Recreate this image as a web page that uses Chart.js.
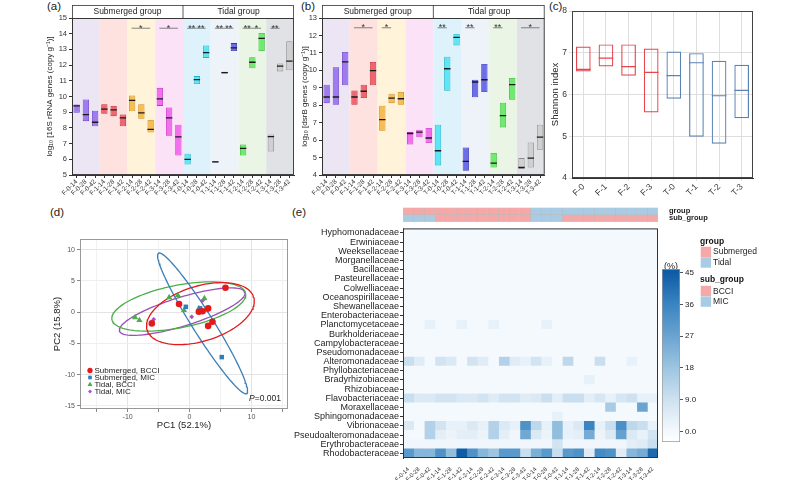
<!DOCTYPE html>
<html>
<head>
<meta charset="utf-8">
<script src="https://cdn.jsdelivr.net/npm/chart.js@4.4.1/dist/chart.umd.min.js"></script>
<style>
  html, body { margin: 0; padding: 0; background: #fff; }
  body { width: 800px; height: 480px; position: relative; overflow: hidden; font-family: "Liberation Sans", Arial, sans-serif; }
  canvas { position: absolute; }
  .tag { position: absolute; font-size: 11.5px; line-height: 1; color: #222; }
</style>
</head>
<body>
<div class="tag" style="left:47px;top:1px">(a)</div>
<div class="tag" style="left:301px;top:1px">(b)</div>
<div class="tag" style="left:549px;top:1px">(c)</div>
<div class="tag" style="left:50px;top:207px">(d)</div>
<div class="tag" style="left:292px;top:207px">(e)</div>

<canvas id="chartA" width="300" height="200" style="left:0;top:0"></canvas>
<canvas id="chartB" width="250" height="200" style="left:300px;top:0"></canvas>
<canvas id="chartC" width="250" height="215" style="left:550px;top:0"></canvas>
<canvas id="chartD" width="300" height="210" style="left:0;top:225px"></canvas>
<canvas id="chartE" width="510" height="258" style="left:290px;top:222px"></canvas>
<canvas id="chartAnno" width="320" height="30" style="left:400px;top:200px"></canvas>
<canvas id="chartScale" width="60" height="190" style="left:655px;top:262px"></canvas>

<script>
const FONT = '"Liberation Sans", Arial, sans-serif'
Chart.defaults.font.family = FONT
Chart.defaults.color = '#222'
Chart.defaults.plugins.legend.display = false
Chart.defaults.plugins.tooltip.enabled = false

// ---------- data ----------
const samples = ['F-0-14', 'F-0-28', 'F-0-42', 'F-1-14', 'F-1-28', 'F-1-42', 'F-2-14', 'F-2-28', 'F-2-42', 'F-3-14', 'F-3-28', 'F-3-42',
                 'T-0-14', 'T-0-28', 'T-0-42', 'T-1-14', 'T-1-28', 'T-1-42', 'T-2-14', 'T-2-28', 'T-2-42', 'T-3-14', 'T-3-28', 'T-3-42']
const stages = ['F-0', 'F-1', 'F-2', 'F-3', 'T-0', 'T-1', 'T-2', 'T-3']
const groupTitles = ['Submerged group', 'Tidal group']

// (a) 16S rRNA genes, box low / high / median
const rrnaLow    = [8.97, 8.43, 8.1, 8.9, 8.75, 8.1, 9.06, 8.58, 7.7, 9.4, 7.5, 6.24, 5.67, 10.8, 12.46, 5.8, 11.47, 12.9, 6.24, 11.8, 12.9, 6.5, 11.6, 11.67]
const rrnaHigh   = [9.49, 9.81, 9.1, 9.5, 9.4, 8.85, 10.06, 9.5, 8.5, 10.55, 9.3, 8.2, 6.35, 11.3, 13.25, 5.87, 11.57, 13.4, 6.94, 12.5, 14.05, 7.58, 12.1, 13.52]
const rrnaMedian = [9.4, 8.85, 8.36, 9.2, 9.15, 8.64, 9.75, 8.96, 7.9, 9.85, 8.64, 7.43, 6.0, 11.08, 12.8, 5.83, 11.52, 13.1, 6.7, 12.18, 13.7, 7.45, 11.93, 12.25]
const rrnaSig = [[6, 8, '*'], [9, 11, '*'], [12, 13, '**'], [13, 14, '**'], [15, 16, '**'], [16, 17, '**'], [18, 19, '**'], [19, 20, '*'], [21, 22, '**']]

// (b) dsrB genes
const dsrbLow    = [8.12, 8.03, 9.14, 8.03, 8.41, 9.14, 6.54, 8.12, 8.03, 5.75, 6.16, 5.83, 4.55, 8.83, 11.43, 4.24, 8.45, 8.76, 4.43, 6.73, 8.32, 4.36, 4.43, 5.45]
const dsrbHigh   = [9.18, 10.17, 11.05, 8.85, 9.18, 10.48, 7.97, 8.66, 8.76, 6.46, 6.6, 6.69, 6.88, 10.78, 12.08, 5.58, 9.46, 10.36, 5.26, 8.14, 9.56, 4.97, 5.87, 6.88]
const dsrbMedian = [8.47, 8.47, 10.48, 8.47, 8.8, 9.98, 7.17, 8.41, 8.37, 6.38, 6.46, 6.12, 5.39, 10.09, 11.89, 4.78, 9.33, 9.46, 4.68, 7.4, 9.18, 4.43, 4.97, 6.17]
const dsrbSig = [[3, 5, '*'], [6, 7, '*'], [12, 13, '**'], [15, 16, '**'], [18, 19, '**'], [21, 23, '*']]

// (c) Shannon index
const shannonLow    = [6.55, 6.67, 6.45, 5.57, 5.9, 4.99, 4.82, 5.43]
const shannonHigh   = [7.15, 7.2, 7.2, 7.1, 7.03, 6.99, 6.81, 6.71]
const shannonMedian = [6.6, 6.87, 6.67, 6.53, 6.45, 6.76, 5.97, 6.1]

// (d) PCA scores
const subBcciX = [-1.7, 1.5, 2.1, 3.0, 3.7, 3.0, -6.1, 5.8]
const subBcciY = [1.3, 0.05, 0.15, 0.6, -1.55, -2.2, -1.8, 3.9]
const subMicX = [-0.6, 1.7, 5.2]
const subMicY = [0.85, 0.6, -7.2]
const tidBcciX = [-8.8, -8.1, -3.3, -1.9, -0.9, 1.5, 2.4, 2.7]
const tidBcciY = [-0.85, -1.3, 2.35, 2.7, 0.3, 0.6, 2.2, 0.5]
const tidMicX = [-5.8, 0.35, 2.1, 2.9]
const tidMicY = [-1.15, -0.75, 1.85, 0.3]
// confidence ellipses: centre x, centre y, semi-axis a, semi-axis b, angle (deg)
const ellSubBcci = [1.75, -0.24, 9.0, 4.4, 17]
const ellSubMic  = [2.1, -1.8, 13.3, 1.7, -57.6]
const ellTidBcci = [-1.74, 0.9, 11.0, 3.4, 11]
const ellTidMic  = [-1.19, 0.08, 10.6, 2.3, 17]
const pValue = '0.001'

// (e) heatmap, relative abundance (%)
const families = ['Hyphomonadaceae', 'Erwiniaceae', 'Weeksellaceae', 'Morganellaceae', 'Bacillaceae', 'Pasteurellaceae', 'Colwelliaceae',
  'Oceanospirillaceae', 'Shewanellaceae', 'Enterobacteriaceae', 'Planctomycetaceae', 'Burkholderiaceae', 'Campylobacteraceae',
  'Pseudomonadaceae', 'Alteromonadaceae', 'Phyllobacteriaceae', 'Bradyrhizobiaceae', 'Rhizobiaceae', 'Flavobacteriaceae',
  'Moraxellaceae', 'Sphingomonadaceae', 'Vibrionaceae', 'Pseudoalteromonadaceae', 'Erythrobacteraceae', 'Rhodobacteraceae']
const abundance = [
  [0,0,0,0,0,0,0,0,0,0,0,0, 0,0,0,0,0,0,0,0,0,0,0,0],
  [0,0,0,0,0,0,0,0,0,0,0,0, 0,0,0,0,0,0,0,0,0,0,0,0],
  [0,0,0,0,0,0,0,0,0,0,0,0, 0,0,0,0,0,0,0,0,0,0,0,0],
  [0,0,0,0,0,0,0,0,0,0,0,0, 0,0,0,0,0,0,0,0,0,0,0,0],
  [0,0,0,0,0,0,0,0,0,0,0,0, 0,0,0,0,0,0,0,0,0,0,0,0],
  [0,0,0,0,0,0,0,0,0,0,0,0, 0,0,0,0,0,0,0,0,0,0,0,0],
  [0,0,0,0,0,0,0,0,0,0,0,0, 0,0,0,0,0,0,0,0,0,0,0,0],
  [0,0,0,0,0,0,0,0,0,0,0,0, 0,0,0,0,0,0,0,0,0,0,0,0],
  [0,0,0,0,0,0,0,0,0,0,0,0, 0,0,0,0,0,0,0,0,0,0,0,0],
  [0,0,0,0,0,0,0,0,0,0,0,0, 0,0,0,0,0,0,0,0,0,0,0,0],
  [0,0,3,0,0,3,0,0,3,0,0,0, 0,3,0,0,0,0,0,0,0,0,0,0],
  [0,0,0,0,0,0,0,0,0,0,0,0, 0,0,0,0,0,0,0,0,0,0,0,0],
  [0,0,0,0,0,0,0,0,0,0,0,0, 0,0,0,0,0,0,0,0,0,0,0,0],
  [0,0,0,0,0,0,0,0,0,0,0,0, 0,0,0,0,0,0,0,0,0,0,0,0],
  [10,5,0,8,6,0,8,5,0,14,5,3, 8,3,0,12,0,0,10,0,0,3,0,0],
  [0,0,0,0,0,0,0,0,0,0,0,0, 0,0,0,0,0,0,0,0,0,0,0,0],
  [0,0,0,0,0,0,0,0,0,0,0,0, 0,0,0,0,0,3,0,0,0,0,0,0],
  [0,0,0,0,0,0,0,0,0,0,0,0, 0,0,0,0,0,0,0,0,0,0,0,0],
  [10,6,6,8,8,6,6,8,5,8,8,5, 6,10,4,10,10,4,7,3,7,9,3,3],
  [0,0,0,0,0,0,0,0,0,0,0,0, 0,0,0,0,0,0,0,16,0,0,27,0],
  [0,0,0,0,0,0,0,0,0,0,0,0, 0,0,3,0,0,0,0,0,0,0,0,0],
  [6,0,14,8,3,3,6,3,14,6,3,32, 12,3,20,3,6,36,3,10,33,12,10,3],
  [0,0,14,4,2,4,4,2,14,4,1,26, 6,2,20,3,4,25,2,6,28,6,3,8],
  [1,1,1,1,1,1,1,1,1,1,1,1, 1,1,8,1,1,1,1,1,1,4,5,10],
  [30,22,22,32,20,45,32,22,18,30,30,10, 24,30,10,30,32,5,34,32,5,22,25,42]
]
const sampleGroup = ['Submerged','Submerged','Submerged','Submerged','Submerged','Submerged','Submerged','Submerged','Submerged','Submerged','Submerged','Submerged',
                     'Tidal','Tidal','Tidal','Tidal','Tidal','Tidal','Tidal','Tidal','Tidal','Tidal','Tidal','Tidal']
const sampleSubGroup = ['MIC','MIC','MIC','BCCI','BCCI','BCCI','BCCI','BCCI','BCCI','BCCI','BCCI','BCCI',
                        'MIC','MIC','MIC','BCCI','BCCI','BCCI','BCCI','BCCI','BCCI','BCCI','BCCI','BCCI']
const scaleTicks = [0, 9, 18, 27, 36, 45]

// ---------- styles ----------
const stageFill = ['rgba(146,104,236,0.85)', 'rgba(236,80,92,0.85)', 'rgba(244,178,62,0.85)', 'rgba(240,92,236,0.85)',
                   'rgba(72,228,244,0.85)', 'rgba(86,86,232,0.85)', 'rgba(88,232,88,0.85)', 'rgba(205,205,205,0.85)']
const stageLine = ['#6a3fd0', '#c42a38', '#cc8a18', '#c832c6', '#1cb4c8', '#3434b8', '#2eb82e', '#8c8c8c']
const stageBand = ['#ece5f3', '#fde2df', '#fff3da', '#fbe2f6', '#ddf2fa', '#eef2f9', '#ebf5e6', '#e0e2e5']
const annoColors = { Submerged: '#f4a8a7', Tidal: '#a9cbe4', BCCI: '#f4a8a7', MIC: '#a9cbe4' }
const colorStops = [[-3, [255,255,255]], [0, [244,249,253]], [9, [206,225,240]], [18, [157,197,225]], [27, [106,164,208]], [36, [58,132,194]], [45, [14,92,166]]]

function heatColor(v) {
  for (let k = 1; k < colorStops.length; k++) {
    const [v1, c1] = colorStops[k]
    const [v0, c0] = colorStops[k - 1]
    if (v <= v1 || k == colorStops.length - 1) {
      const t = Math.max(0, Math.min(1, (v - v0) / (v1 - v0)))
      const c = c0.map((x, i) => Math.round(x + (c1[i] - x) * t))
      return `rgb(${c[0]},${c[1]},${c[2]})`
    }
  }
}

// ---------- small plugins ----------
function framePlugin(color, width) {
  return {
    id: 'frame',
    afterDraw(chart) {
      const { ctx, chartArea: a } = chart
      ctx.save()
      ctx.strokeStyle = color
      ctx.lineWidth = width
      ctx.strokeRect(a.left + 0.5, a.top + 0.5, a.right - a.left - 1, a.bottom - a.top - 1)
      ctx.restore()
    }
  }
}

function bandPlugin(colors) {
  return {
    id: 'bands',
    beforeDraw(chart) {
      const { ctx, chartArea: a, scales: { x } } = chart
      const step = (a.right - a.left) / samples.length
      ctx.save()
      colors.forEach((c, k) => {
        ctx.fillStyle = c
        ctx.fillRect(x.getPixelForValue(k * 3) - step / 2, a.top, step * 3, a.bottom - a.top)
      })
      ctx.restore()
    }
  }
}

function headerPlugin() {
  return {
    id: 'header',
    afterDraw(chart) {
      const { ctx, chartArea: a } = chart
      const top = a.top - 13
      const mid = (a.left + a.right) / 2
      ctx.save()
      ctx.strokeStyle = '#333'
      ctx.lineWidth = 0.8
      ctx.strokeRect(a.left + 0.5, top + 0.5, a.right - a.left - 1, 13)
      ctx.beginPath()
      ctx.moveTo(mid, top)
      ctx.lineTo(mid, a.top)
      ctx.stroke()
      ctx.fillStyle = '#222'
      ctx.font = '8.5px ' + FONT
      ctx.textAlign = 'center'
      ctx.textBaseline = 'middle'
      ctx.fillText(groupTitles[0], (a.left + mid) / 2, top + 7)
      ctx.fillText(groupTitles[1], (mid + a.right) / 2, top + 7)
      ctx.restore()
    }
  }
}

// significance bars with stars sitting just above them
function sigPlugin(marks, level) {
  return {
    id: 'sig',
    afterDatasetsDraw(chart) {
      const { ctx, scales: { x, y } } = chart
      const yy = y.getPixelForValue(level)
      ctx.save()
      ctx.strokeStyle = '#666'
      ctx.lineWidth = 0.8
      ctx.fillStyle = '#333'
      ctx.font = '9px ' + FONT
      ctx.textAlign = 'center'
      ctx.textBaseline = 'alphabetic'
      for (let [i, j, txt] of marks) {
        const x1 = x.getPixelForValue(i) - 0.5
        const x2 = x.getPixelForValue(j) - 0.5
        ctx.beginPath()
        ctx.moveTo(x1, yy)
        ctx.lineTo(x2, yy)
        ctx.stroke()
        ctx.fillText(txt, (x1 + x2) / 2, yy + 2.5)
      }
      ctx.restore()
    }
  }
}

// ---------- (a) and (b) box panels ----------
function boxPanel(id, o) {
  return new Chart(document.getElementById(id), {
    type: 'bar',
    data: {
      labels: samples,
      datasets: [
        {
          data: o.low.map((v, i) => [v, o.high[i]]),
          backgroundColor: samples.map((s, i) => stageFill[Math.floor(i / 3)]),
          borderColor: samples.map((s, i) => stageLine[Math.floor(i / 3)]),
          borderWidth: 0.8,
          borderSkipped: false,
          barPercentage: 0.68,
          categoryPercentage: 1,
          order: 2
        },
        {
          type: 'line',
          data: o.median,
          showLine: false,
          pointStyle: 'line',
          pointRadius: o.medianHalf,
          pointBorderColor: '#1a1a1a',
          pointBorderWidth: 1.3,
          order: 1
        }
      ]
    },
    options: {
      responsive: false,
      maintainAspectRatio: false,
      animation: false,
      devicePixelRatio: 1,
      layout: { padding: { left: o.padLeft, top: 18, right: o.padRight, bottom: 0 } },
      scales: {
        x: {
          grid: { display: true, drawOnChartArea: false, offset: false, tickLength: 3, color: '#333' },
          border: { color: '#333' },
          ticks: { font: { size: 6.5 }, color: '#333', minRotation: 45, maxRotation: 45, autoSkip: false, padding: 0 },
          afterFit: s => { s.height = 25 }
        },
        y: {
          min: o.min,
          max: o.max,
          grid: { display: true, drawOnChartArea: false, tickLength: 3, color: '#333' },
          border: { color: '#333' },
          ticks: { stepSize: 1, font: { size: 7.5 }, color: '#333', padding: 2 },
          title: { display: true, text: o.title, font: { size: 8 }, color: '#222', padding: { top: 0, bottom: 0 } },
          afterFit: s => { s.width = o.axisWidth }
        }
      }
    },
    plugins: [bandPlugin(stageBand), sigPlugin(o.sig, o.sigLevel), headerPlugin(), framePlugin('#333', 0.9)]
  })
}

boxPanel('chartA', {
  low: rrnaLow, high: rrnaHigh, median: rrnaMedian, sig: rrnaSig, sigLevel: 14.35,
  min: 5, max: 15, title: 'log\u2081\u2080 [16S rRNA genes (copy g\u207B\u00B9)]',
  padLeft: 45, axisWidth: 27, padRight: 6, medianHalf: 3.2
})

boxPanel('chartB', {
  low: dsrbLow, high: dsrbHigh, median: dsrbMedian, sig: dsrbSig, sigLevel: 12.44,
  min: 4, max: 13, title: 'log\u2081\u2080 [dsrB genes (copy g\u207B\u00B9)]',
  padLeft: 0, axisWidth: 22, padRight: 4, medianHalf: 3.2
})

// ---------- (c) Shannon index ----------
const shannonColor = stages.map(s => s[0] == 'F' ? '#e8444c' : '#5a82b5')

new Chart(document.getElementById('chartC'), {
  type: 'bar',
  data: {
    labels: stages,
    datasets: [
      {
        data: shannonLow.map((v, i) => [v, shannonHigh[i]]),
        backgroundColor: 'rgba(0,0,0,0)',
        borderColor: shannonColor,
        borderWidth: 1.2,
        borderSkipped: false,
        barPercentage: 0.65,
        categoryPercentage: 1,
        order: 2
      },
      {
        type: 'line',
        data: shannonMedian,
        showLine: false,
        pointStyle: 'line',
        pointRadius: 7.3,
        pointBorderColor: shannonColor,
        pointBorderWidth: 1.2,
        order: 1
      }
    ]
  },
  options: {
    responsive: false,
    maintainAspectRatio: false,
    animation: false,
    devicePixelRatio: 1,
    layout: { padding: { left: 0, top: 11, right: 47, bottom: 0 } },
    scales: {
      x: {
        grid: { display: true, offset: false, tickLength: 3, color: '#dedede' },
        border: { color: '#333' },
        ticks: { font: { size: 8.5 }, color: '#333', minRotation: 45, maxRotation: 45, padding: 1 },
        afterFit: s => { s.height = 37 }
      },
      y: {
        min: 4,
        max: 8,
        grid: { display: true, tickLength: 3, color: '#dedede' },
        border: { color: '#333' },
        ticks: { stepSize: 1, font: { size: 8.5 }, color: '#333', padding: 2 },
        title: { display: true, text: 'Shannon index', font: { size: 9.5 }, color: '#222', padding: { top: 0, bottom: 0 } },
        afterFit: s => { s.width = 22 }
      }
    }
  },
  plugins: [framePlugin('#444', 1)]
})

// ---------- (d) PCA ----------
const pcaSeries = [
  { label: 'Submerged, BCCI', xs: subBcciX, ys: subBcciY, ell: ellSubBcci, color: '#e3191c', ellColor: '#e3191c', style: 'circle', r: 3.3 },
  { label: 'Submerged, MIC', xs: subMicX, ys: subMicY, ell: ellSubMic, color: '#2e7ebc', ellColor: '#3b7fb9', style: 'rect', r: 3.2 },
  { label: 'Tidal, BCCI', xs: tidBcciX, ys: tidBcciY, ell: ellTidBcci, color: '#4aae48', ellColor: '#4aae48', style: 'triangle', r: 3.6 },
  { label: 'Tidal, MIC', xs: tidMicX, ys: tidMicY, ell: ellTidMic, color: '#a552c4', ellColor: '#9b50b8', style: 'rectRot', r: 2.4 }
]

function ellipsePoints(p) {
  const [cx, cy, a, b, deg] = p
  const th = deg * Math.PI / 180
  let pts = []
  for (let k = 0; k <= 120; k++) {
    const t = k / 120 * 2 * Math.PI
    pts.push({
      x: cx + a * Math.cos(t) * Math.cos(th) - b * Math.sin(t) * Math.sin(th),
      y: cy + a * Math.cos(t) * Math.sin(th) + b * Math.sin(t) * Math.cos(th)
    })
  }
  return pts
}

const pcaLegend = {
  id: 'pcaLegend',
  afterDraw(chart) {
    const { ctx, chartArea: a } = chart
    ctx.save()
    ctx.textBaseline = 'middle'
    ctx.textAlign = 'left'
    ctx.font = '8px ' + FONT
    pcaSeries.forEach((s, k) => {
      const y = a.bottom - 38.5 + k * 7
      ctx.fillStyle = s.color
      ctx.strokeStyle = s.color
      Chart.helpers.drawPoint(ctx, { pointStyle: s.style, radius: s.r * 0.8, rotation: 0, borderWidth: 0 }, a.left + 10, y)
      ctx.fillStyle = '#222'
      ctx.fillText(s.label, a.left + 14.5, y + 0.5)
    })
    ctx.textAlign = 'right'
    ctx.font = '8.5px ' + FONT
    const rest = '=' + pValue
    const w = ctx.measureText(rest).width
    ctx.fillText(rest, a.right - 7, a.bottom - 10)
    ctx.font = 'italic 8.5px ' + FONT
    ctx.fillText('P', a.right - 7 - w, a.bottom - 10)
    ctx.restore()
  }
}

new Chart(document.getElementById('chartD'), {
  type: 'scatter',
  data: {
    datasets: pcaSeries.map(s => ({
      data: s.xs.map((x, i) => ({ x, y: s.ys[i] })),
      pointStyle: s.style,
      pointRadius: s.r,
      backgroundColor: s.color,
      borderColor: s.color,
      pointBorderWidth: 0
    })).concat(pcaSeries.map(s => ({
      data: ellipsePoints(s.ell),
      showLine: true,
      pointRadius: 0,
      borderColor: s.ellColor,
      borderWidth: 1.3,
      fill: false
    })))
  },
  options: {
    responsive: false,
    maintainAspectRatio: false,
    animation: false,
    devicePixelRatio: 1,
    layout: { padding: { left: 52, top: 14, right: 12, bottom: 0 } },
    scales: {
      x: {
        min: -17.7,
        max: 15.9,
        afterBuildTicks: s => { s.ticks = [-15, -10, -5, 0, 5, 10, 15].map(v => ({ value: v })) },
        grid: { color: c => (c.tick && c.tick.value % 10 === 0) ? '#e4e4e4' : '#f2f2f2', tickLength: 3, tickColor: '#888' },
        border: { display: false },
        ticks: { font: { size: 7 }, color: '#555', padding: 1, callback: v => v % 10 === 0 ? v : '' },
        title: { display: true, text: 'PC1 (52.1%)', font: { size: 9.5 }, color: '#222' },
        afterFit: s => { s.height = 26 }
      },
      y: {
        min: -15.5,
        max: 11.7,
        afterBuildTicks: s => { s.ticks = [-15, -10, -5, 0, 5, 10].map(v => ({ value: v })) },
        grid: { color: c => (c.tick && c.tick.value % 10 === 0) ? '#e4e4e4' : '#eeeeee', tickLength: 3, tickColor: '#888' },
        border: { display: false },
        ticks: { font: { size: 7 }, color: '#555', padding: 2 },
        title: { display: true, text: 'PC2 (15.8%)', font: { size: 9.5 }, color: '#222', padding: { top: 0, bottom: 0 } },
        afterFit: s => { s.width = 28 }
      }
    }
  },
  plugins: [framePlugin('#999', 1), pcaLegend]
})

// ---------- (e) heatmap ----------
const heatLegend = {
  id: 'heatLegend',
  afterDraw(chart) {
    const ctx = chart.ctx
    ctx.save()
    ctx.textBaseline = 'middle'
    ctx.textAlign = 'left'
    ctx.fillStyle = '#111'
    ctx.font = 'bold 8.5px ' + FONT
    ctx.fillText('group', 410, 20)
    ctx.fillText('sub_group', 410, 57.5)
    const rows = [['Submerged', 24.7], ['Tidal', 35.3], ['BCCI', 63.8], ['MIC', 74.4]]
    ctx.font = '8.5px ' + FONT
    for (let [name, y] of rows) {
      ctx.fillStyle = annoColors[name]
      ctx.fillRect(410.7, y, 10.4, 10.4)
      ctx.fillStyle = '#222'
      ctx.fillText(name, 423, y + 5.4)
    }
    ctx.font = '9px ' + FONT
    ctx.textAlign = 'center'
    ctx.fillText('(%)', 381, 45)
    ctx.restore()
  }
}

new Chart(document.getElementById('chartE'), {
  type: 'bar',
  data: {
    labels: families,
    datasets: samples.map((s, j) => ({
      label: s,
      data: families.map(() => 1),
      backgroundColor: abundance.map(row => heatColor(row[j])),
      borderWidth: 0,
      barPercentage: 1,
      categoryPercentage: 1
    }))
  },
  options: {
    indexAxis: 'y',
    responsive: false,
    maintainAspectRatio: false,
    animation: false,
    devicePixelRatio: 1,
    layout: { padding: { left: 0, top: 3, right: 142, bottom: 0 } },
    scales: {
      x: {
        type: 'linear',
        stacked: true,
        min: 0,
        max: samples.length,
        afterBuildTicks: s => { s.ticks = samples.map((name, j) => ({ value: j + 0.5 })) },
        grid: { display: false },
        border: { display: false },
        ticks: { callback: (v, i) => samples[i], autoSkip: false, minRotation: 45, maxRotation: 45, font: { size: 5.8 }, color: '#333', padding: 0 },
        afterFit: s => { s.height = 22 }
      },
      y: {
        stacked: true,
        grid: { display: true, drawOnChartArea: false, offset: false, tickLength: 3, color: '#333' },
        border: { color: '#333' },
        ticks: { font: { size: 9 }, color: '#1e1e1e', padding: 1, autoSkip: false },
        afterFit: s => { s.width = 113 }
      }
    }
  },
  plugins: [framePlugin('#333', 1), heatLegend]
})

// annotation strips above the heatmap
new Chart(document.getElementById('chartAnno'), {
  type: 'bar',
  data: {
    labels: ['group', 'sub_group'],
    datasets: samples.map((s, j) => ({
      data: [1, 1],
      backgroundColor: [annoColors[sampleGroup[j]], annoColors[sampleSubGroup[j]]],
      borderColor: 'rgba(140,140,140,0.45)',
      borderWidth: 0.5,
      borderSkipped: false,
      barPercentage: 1,
      categoryPercentage: 1
    }))
  },
  options: {
    indexAxis: 'y',
    responsive: false,
    maintainAspectRatio: false,
    animation: false,
    devicePixelRatio: 1,
    layout: { padding: { left: 3, top: 7, right: 0, bottom: 8 } },
    scales: {
      x: { type: 'linear', stacked: true, min: 0, max: samples.length, display: false },
      y: {
        stacked: true,
        position: 'right',
        grid: { display: false },
        border: { display: false },
        ticks: { font: { size: 7.5, weight: 'bold' }, color: '#222', padding: 3, autoSkip: false },
        afterFit: s => { s.width = 62 }
      }
    }
  }
})

// colour scale bar
new Chart(document.getElementById('chartScale'), {
  type: 'bar',
  data: {
    labels: [''],
    datasets: [{
      data: [[-3, 46]],
      backgroundColor: c => {
        const chart = c.chart
        if (!chart.chartArea) return '#fff'
        const y = chart.scales.y
        const y0 = y.getPixelForValue(-3)
        const y1 = y.getPixelForValue(46)
        const g = chart.ctx.createLinearGradient(0, y0, 0, y1)
        colorStops.forEach(([v, rgb]) => g.addColorStop((v + 3) / 49, `rgb(${rgb[0]},${rgb[1]},${rgb[2]})`))
        return g
      },
      borderColor: '#9a9a9a',
      borderWidth: 1,
      borderSkipped: false,
      barPercentage: 1,
      categoryPercentage: 1
    }]
  },
  options: {
    responsive: false,
    maintainAspectRatio: false,
    animation: false,
    devicePixelRatio: 1,
    layout: { padding: { left: 7, top: 7, right: 0, bottom: 10 } },
    scales: {
      x: { display: false },
      y: {
        position: 'right',
        min: -3,
        max: 46,
        afterBuildTicks: s => { s.ticks = scaleTicks.map(v => ({ value: v })) },
        grid: { display: true, drawOnChartArea: false, tickLength: 3, color: '#555' },
        border: { display: false },
        ticks: { font: { size: 8 }, color: '#222', padding: 2, callback: v => v < 10 ? v.toFixed(1) : String(v) },
        afterFit: s => { s.width = 35 }
      }
    }
  }
})
</script>
</body>
</html>
